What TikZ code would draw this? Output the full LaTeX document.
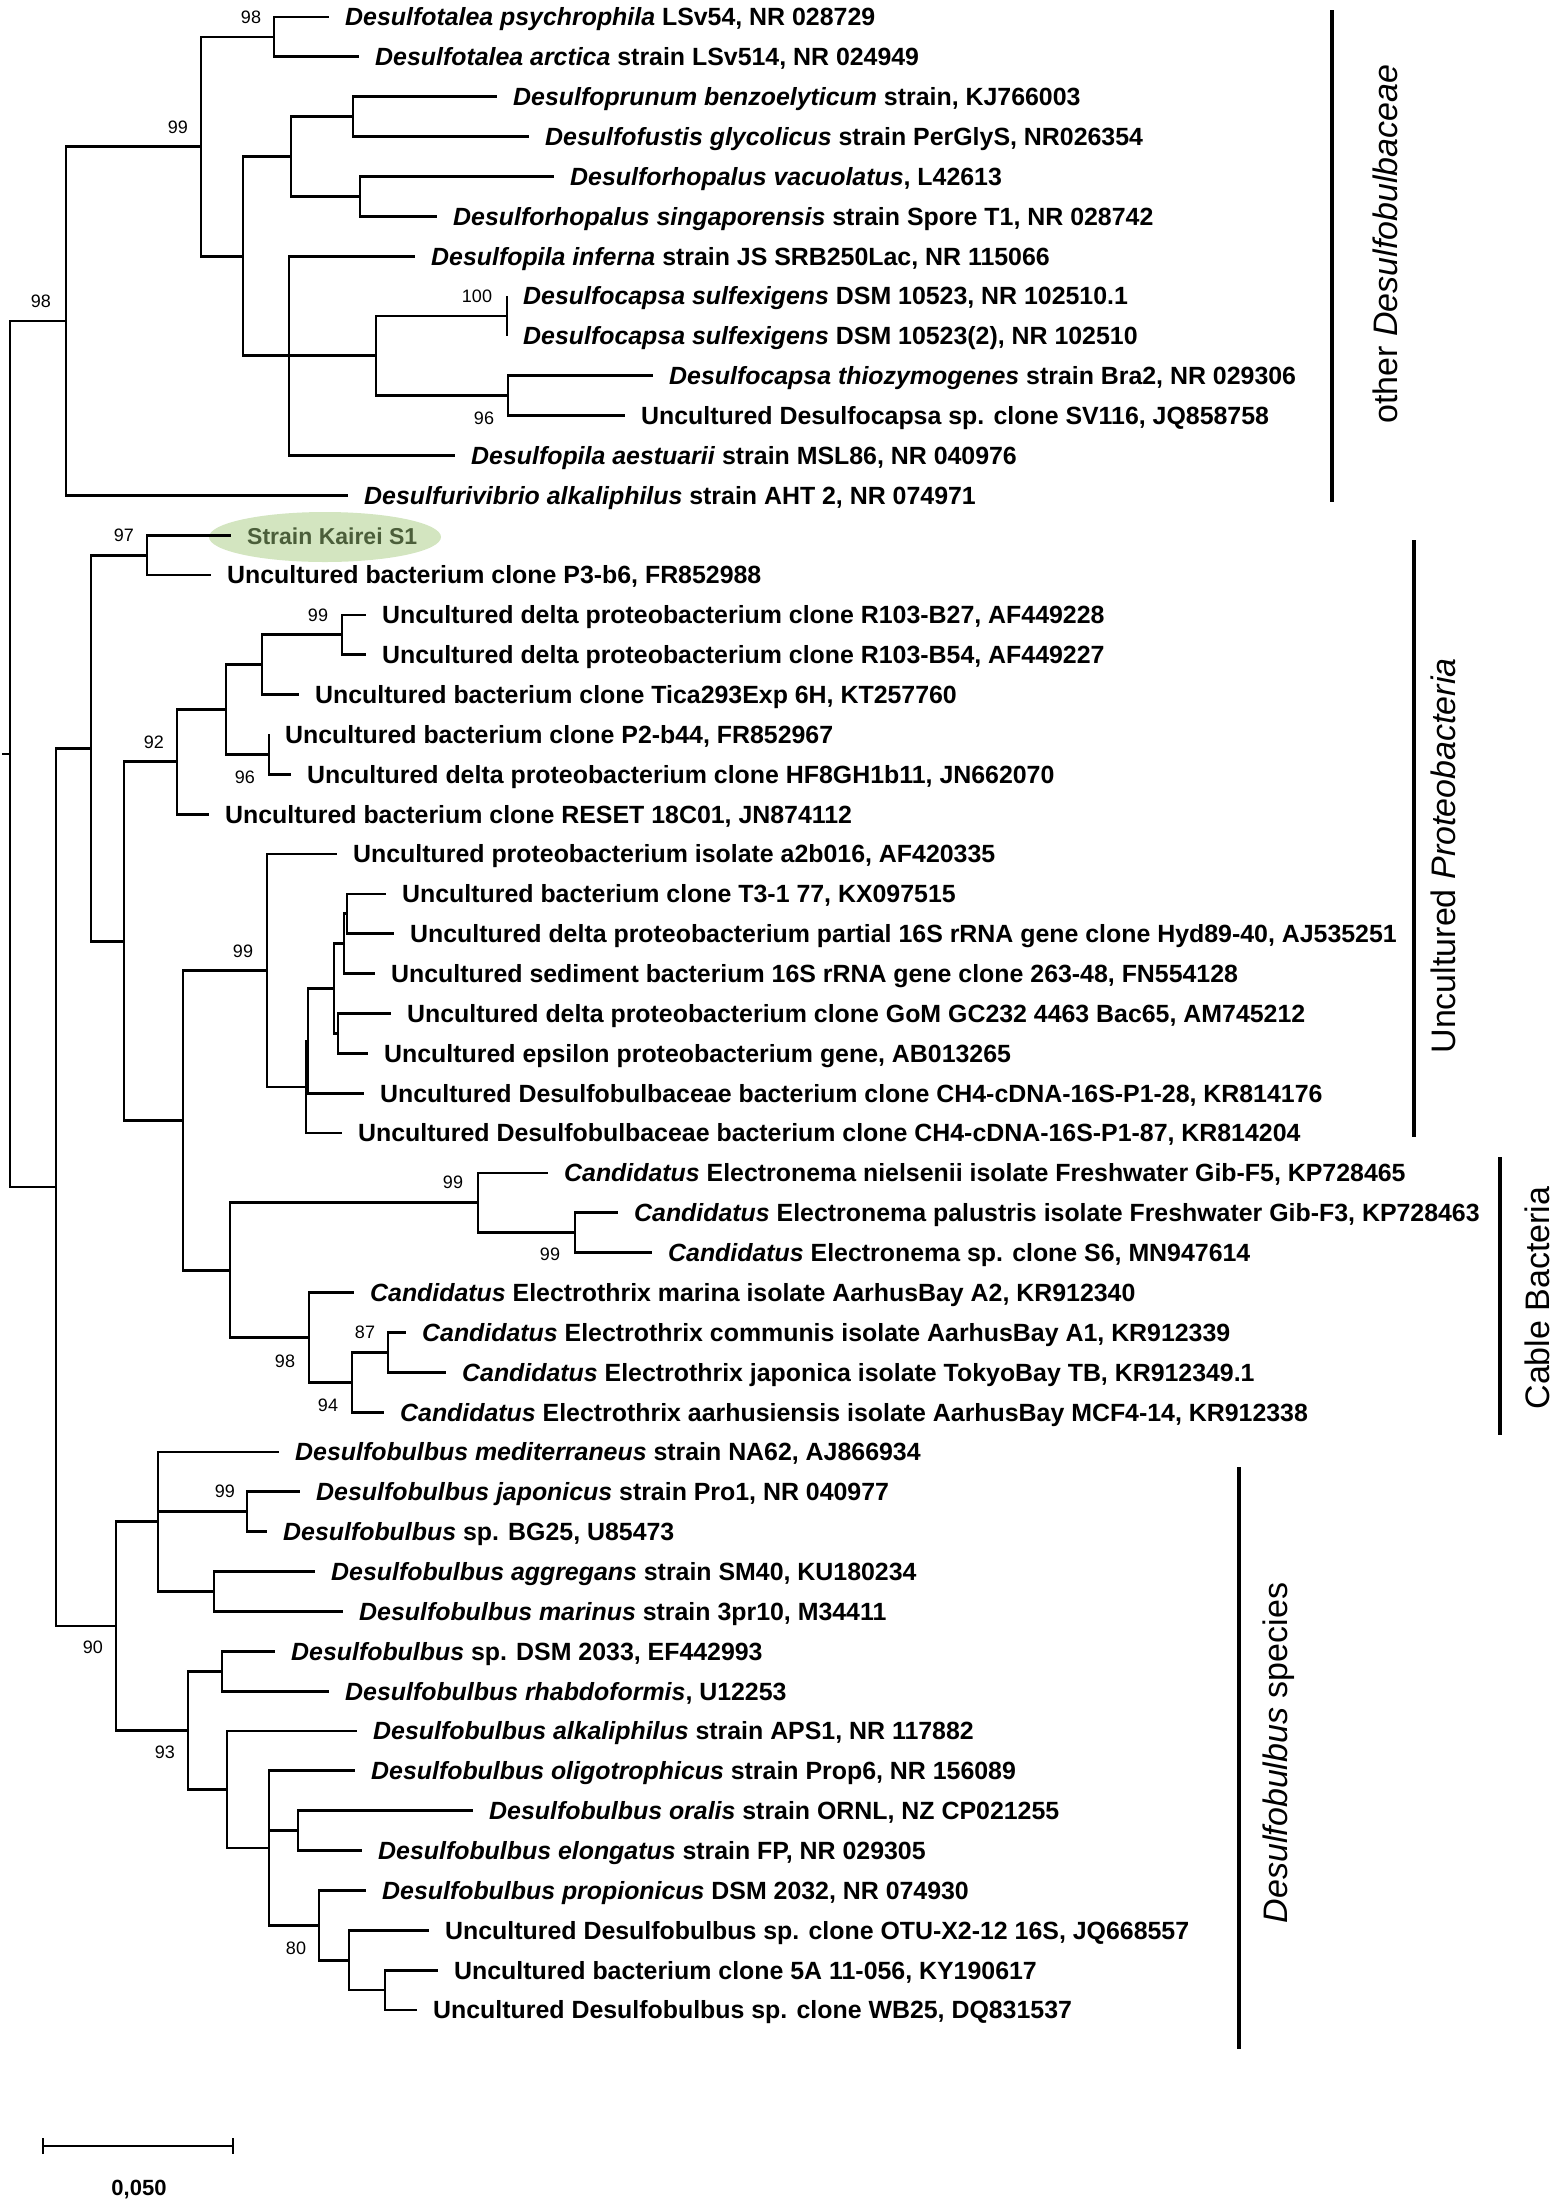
\documentclass[tikz,border=0pt]{standalone}
\usepackage{fontspec}
\setmainfont{Liberation Sans}
\usetikzlibrary{arrows.meta,calc}
\definecolor{kairei-fill}{HTML}{D3E5C0}
\definecolor{kairei-text}{HTML}{4B5E3A}

% a tip: name, row, end of its branch, label
\newcommand{\tip}[4]{%
  \coordinate (#1) at (#3,{17+(#2-1)*39.86});
  \node[tiplabel] (#1-txt) at (#1) {#4};}
% an inner node: name, x, first child, last child
\newcommand{\fork}[4]{%
  \path let \p1=($(#3)!0.5!(#4)$) in coordinate (#1) at (#2pt,\y1);}

\begin{document}
\begin{tikzpicture}[x=1pt,y=-1pt,
    branch/.style={line width=2.8pt},
    tiplabel/.style={anchor=base west,inner sep=0pt,xshift=16pt,yshift=-8.9pt,
      font=\fontsize{24.9}{29}\selectfont\bfseries},
    boot/.style={inner sep=0pt,font=\fontsize{18}{20}\selectfont},
    group/.style={rotate=90,inner sep=0pt,font=\fontsize{34}{40}\selectfont},
    bracket/.style={line width=3.4pt}]
  \useasboundingbox (0,0) rectangle (1559,2209);

  \fill[kairei-fill] (325,537) ellipse [x radius=116,y radius=25];

  % other Desulfobulbaceae
  \tip{psychrophila}{1}{329}{\textit{Desulfotalea psychrophila} LSv54, NR 028729}
  \tip{arctica}{2}{359}{\textit{Desulfotalea arctica} strain LSv514, NR 024949}
  \tip{benzoelyticum}{3}{497}{\textit{Desulfoprunum benzoelyticum} strain, KJ766003}
  \tip{glycolicus}{4}{529}{\textit{Desulfofustis glycolicus} strain PerGlyS, NR026354}
  \tip{vacuolatus}{5}{554}{\textit{Desulforhopalus vacuolatus}, L42613}
  \tip{singaporensis}{6}{437}{\textit{Desulforhopalus singaporensis} strain Spore T1, NR 028742}
  \tip{inferna}{7}{415}{\textit{Desulfopila inferna} strain JS SRB250Lac, NR 115066}
  \tip{sulfex1}{8}{507}{\textit{Desulfocapsa sulfexigens} DSM 10523, NR 102510.1}
  \tip{sulfex2}{9}{507}{\textit{Desulfocapsa sulfexigens} DSM 10523(2), NR 102510}
  \tip{thiozym}{10}{653}{\textit{Desulfocapsa thiozymogenes} strain Bra2, NR 029306}
  \tip{sv116}{11}{625}{Uncultured Desulfocapsa sp. clone SV116, JQ858758}
  \tip{aestuarii}{12}{455}{\textit{Desulfopila aestuarii} strain MSL86, NR 040976}
  \tip{vibrio}{13}{348}{\textit{Desulfurivibrio alkaliphilus} strain AHT 2, NR 074971}

  % uncultured Proteobacteria
  \tip{kairei}{14}{231}{\fontsize{23}{27}\selectfont\textcolor{kairei-text}{Strain Kairei S1}}
  \tip{p3b6}{15}{211}{Uncultured bacterium clone P3-b6, FR852988}
  \tip{r103b27}{16}{366}{Uncultured delta proteobacterium clone R103-B27, AF449228}
  \tip{r103b54}{17}{366}{Uncultured delta proteobacterium clone R103-B54, AF449227}
  \tip{tica}{18}{299}{Uncultured bacterium clone Tica293Exp 6H, KT257760}
  \tip{p2b44}{19}{269}{Uncultured bacterium clone P2-b44, FR852967}
  \tip{hf8}{20}{291}{Uncultured delta proteobacterium clone HF8GH1b11, JN662070}
  \tip{reset}{21}{209}{Uncultured bacterium clone RESET 18C01, JN874112}
  \tip{a2b016}{22}{337}{Uncultured proteobacterium isolate a2b016, AF420335}
  \tip{t3}{23}{386}{Uncultured bacterium clone T3-1 77, KX097515}
  \tip{hyd}{24}{394}{Uncultured delta proteobacterium partial 16S rRNA gene clone Hyd89-40, AJ535251}
  \tip{sediment}{25}{375}{Uncultured sediment bacterium 16S rRNA gene clone 263-48, FN554128}
  \tip{gom}{26}{391}{Uncultured delta proteobacterium clone GoM GC232 4463 Bac65, AM745212}
  \tip{epsilon}{27}{368}{Uncultured epsilon proteobacterium gene, AB013265}
  \tip{ch28}{28}{364}{Uncultured Desulfobulbaceae bacterium clone CH4-cDNA-16S-P1-28, KR814176}
  \tip{ch87}{29}{342}{Uncultured Desulfobulbaceae bacterium clone CH4-cDNA-16S-P1-87, KR814204}

  % cable bacteria
  \tip{nielsenii}{30}{548}{\textit{Candidatus} Electronema nielsenii isolate Freshwater Gib-F5, KP728465}
  \tip{palustris}{31}{618}{\textit{Candidatus} Electronema palustris isolate Freshwater Gib-F3, KP728463}
  \tip{nemaS6}{32}{652}{\textit{Candidatus} Electronema sp. clone S6, MN947614}
  \tip{marina}{33}{354}{\textit{Candidatus} Electrothrix marina isolate AarhusBay A2, KR912340}
  \tip{communis}{34}{406}{\textit{Candidatus} Electrothrix communis isolate AarhusBay A1, KR912339}
  \tip{japonica}{35}{446}{\textit{Candidatus} Electrothrix japonica isolate TokyoBay TB, KR912349.1}
  \tip{aarhus}{36}{384}{\textit{Candidatus} Electrothrix aarhusiensis isolate AarhusBay MCF4-14, KR912338}

  % Desulfobulbus
  \tip{mediterraneus}{37}{279}{\textit{Desulfobulbus mediterraneus} strain NA62, AJ866934}
  \tip{japonicus}{38}{300}{\textit{Desulfobulbus japonicus} strain Pro1, NR 040977}
  \tip{bg25}{39}{267}{\textit{Desulfobulbus} sp. BG25, U85473}
  \tip{aggregans}{40}{315}{\textit{Desulfobulbus aggregans} strain SM40, KU180234}
  \tip{marinus}{41}{343}{\textit{Desulfobulbus marinus} strain 3pr10, M34411}
  \tip{dsm2033}{42}{275}{\textit{Desulfobulbus} sp. DSM 2033, EF442993}
  \tip{rhabdo}{43}{329}{\textit{Desulfobulbus rhabdoformis}, U12253}
  \tip{alkaliphilus}{44}{357}{\textit{Desulfobulbus alkaliphilus} strain APS1, NR 117882}
  \tip{oligo}{45}{355}{\textit{Desulfobulbus oligotrophicus} strain Prop6, NR 156089}
  \tip{oralis}{46}{473}{\textit{Desulfobulbus oralis} strain ORNL, NZ CP021255}
  \tip{elongatus}{47}{362}{\textit{Desulfobulbus elongatus} strain FP, NR 029305}
  \tip{propionicus}{48}{366}{\textit{Desulfobulbus propionicus} DSM 2032, NR 074930}
  \tip{otu}{49}{429}{Uncultured Desulfobulbus sp. clone OTU-X2-12 16S, JQ668557}
  \tip{fiveA}{50}{438}{Uncultured bacterium clone 5A 11-056, KY190617}
  \tip{wb25}{51}{417}{Uncultured Desulfobulbus sp. clone WB25, DQ831537}

  % inner nodes, from the tips down to the root
  \fork{talea}{274}{psychrophila}{arctica}
  \fork{prunum}{353}{benzoelyticum}{glycolicus}
  \fork{rhopalus}{360}{vacuolatus}{singaporensis}
  \fork{prhop}{291}{prunum}{rhopalus}
  \fork{sulfex}{507}{sulfex1}{sulfex2}
  \fork{thio}{508}{thiozym}{sv116}
  \fork{capsa}{376}{sulfex}{thio}
  \fork{pila}{289}{inferna}{aestuarii}
  \fork{core}{243}{prhop}{pila}
  \fork{others}{201}{talea}{core}
  \fork{upper}{66}{others}{vibrio}
  \fork{kaireiclade}{147}{kairei}{p3b6}
  \fork{r103}{342}{r103b27}{r103b54}
  \fork{ticaclade}{262}{r103}{tica}
  \fork{p2}{269}{p2b44}{hf8}
  \fork{clones}{226}{ticaclade}{p2}
  \fork{resetclade}{177}{clones}{reset}
  \fork{t3hyd}{347}{t3}{hyd}
  \fork{sedclade}{344}{t3hyd}{sediment}
  \fork{gomeps}{338}{gom}{epsilon}
  \fork{deltas}{334}{sedclade}{gomeps}
  \fork{ch4a}{308}{deltas}{ch28}
  \fork{ch4b}{306}{ch4a}{ch87}
  \fork{a2b}{267}{a2b016}{ch4b}
  \fork{nema2}{575}{palustris}{nemaS6}
  \fork{nema}{478}{nielsenii}{nema2}
  \fork{thrix3}{388}{communis}{japonica}
  \fork{thrix2}{352}{thrix3}{aarhus}
  \fork{thrix}{309}{marina}{thrix2}
  \fork{cable}{230}{nema}{thrix}
  \fork{lowerclones}{183}{a2b}{cable}
  \fork{proteo}{124}{resetclade}{lowerclones}
  \fork{kaireiup}{91}{kaireiclade}{proteo}
  \fork{japbg}{247}{japonicus}{bg25}
  \fork{aggmar}{214}{aggregans}{marinus}
  \fork{medit}{158}{mediterraneus}{aggmar}
  \fork{dsmrh}{222}{dsm2033}{rhabdo}
  \fork{oralel}{298}{oralis}{elongatus}
  \fork{wb}{385}{fiveA}{wb25}
  \fork{otuwb}{349}{otu}{wb}
  \fork{propi}{319}{propionicus}{otuwb}
  \fork{oligoclade}{269}{oligo}{propi}
  \fork{alkal}{227}{alkaliphilus}{oligoclade}
  \fork{rhabdoclade}{188}{dsmrh}{alkal}
  \fork{bulbus}{116}{medit}{rhabdoclade}
  \fork{lower}{56}{kaireiup}{bulbus}
  \fork{root}{10}{upper}{lower}
  \coordinate (stem) at ([xshift=-8pt]root);

  \draw[branch] (root) -- (stem);
  \foreach \p/\c in {root/upper, root/lower,
      upper/others, upper/vibrio, others/talea, others/core,
      talea/psychrophila, talea/arctica, core/prhop, core/pila,
      prhop/prunum, prhop/rhopalus, prunum/benzoelyticum, prunum/glycolicus,
      rhopalus/vacuolatus, rhopalus/singaporensis,
      pila/inferna, pila/capsa, pila/aestuarii, capsa/sulfex, capsa/thio,
      sulfex/sulfex1, sulfex/sulfex2, thio/thiozym, thio/sv116,
      lower/kaireiup, lower/bulbus, kaireiup/kaireiclade, kaireiup/proteo,
      kaireiclade/kairei, kaireiclade/p3b6,
      proteo/resetclade, proteo/lowerclones, resetclade/clones, resetclade/reset,
      clones/ticaclade, clones/p2, ticaclade/r103, ticaclade/tica,
      r103/r103b27, r103/r103b54, p2/p2b44, p2/hf8,
      lowerclones/a2b, lowerclones/cable, a2b/a2b016, a2b/ch4b,
      ch4b/ch4a, ch4b/ch87, ch4a/deltas, ch4a/ch28,
      deltas/sedclade, deltas/gomeps, sedclade/t3hyd, sedclade/sediment,
      t3hyd/t3, t3hyd/hyd, gomeps/gom, gomeps/epsilon,
      cable/nema, cable/thrix, nema/nielsenii, nema/nema2,
      nema2/palustris, nema2/nemaS6, thrix/marina, thrix/thrix2,
      thrix2/thrix3, thrix2/aarhus, thrix3/communis, thrix3/japonica,
      bulbus/medit, bulbus/rhabdoclade,
      medit/mediterraneus, medit/japbg, medit/aggmar,
      japbg/japonicus, japbg/bg25, aggmar/aggregans, aggmar/marinus,
      rhabdoclade/dsmrh, rhabdoclade/alkal, dsmrh/dsm2033, dsmrh/rhabdo,
      alkal/alkaliphilus, alkal/oligoclade,
      oligoclade/oligo, oligoclade/oralel, oligoclade/propi,
      oralel/oralis, oralel/elongatus, propi/propionicus, propi/otuwb,
      otuwb/otu, otuwb/wb, wb/fiveA, wb/wb25}
    \draw[branch] (\p) |- (\c);

  % bootstrap values
  \node[boot] (bs-upper) at (41,301) {98};
  \node[boot] (bs-others) at (178,127) {99};
  \node[boot] (bs-talea) at (251,17) {98};
  \node[boot] (bs-sulfex) at (477,296) {100};
  \node[boot] (bs-thio) at (484,418) {96};
  \node[boot] (bs-kairei) at (124,535) {97};
  \node[boot] (bs-r103) at (318,615) {99};
  \node[boot] (bs-reset) at (154,742) {92};
  \node[boot] (bs-p2) at (245,777) {96};
  \node[boot] (bs-a2b) at (243,951) {99};
  \node[boot] (bs-nema) at (453,1182) {99};
  \node[boot] (bs-nema2) at (550,1254) {99};
  \node[boot] (bs-thrix3) at (365,1332) {87};
  \node[boot] (bs-thrix) at (285,1361) {98};
  \node[boot] (bs-thrix2) at (328,1405) {94};
  \node[boot] (bs-japbg) at (225,1491) {99};
  \node[boot] (bs-bulbus) at (93,1647) {90};
  \node[boot] (bs-rhabdo) at (165,1752) {93};
  \node[boot] (bs-propi) at (296,1948) {80};

  % groups on the right
  \draw[bracket] (1332,10) -- (1332,502);
  \node[group] (g-other) at (1385,244) {other \textit{Desulfobulbaceae}};
  \draw[bracket] (1414,540) -- (1414,1137);
  \node[group] (g-proteo) at (1443,856) {Uncultured \textit{Proteobacteria}};
  \draw[bracket] (1500,1157) -- (1500,1435);
  \node[group] (g-cable) at (1537,1298) {Cable Bacteria};
  \draw[bracket] (1239,1467) -- (1239,2049);
  \node[group] (g-bulbus) at (1279,1753) {\textit{Desulfobulbus} species};

  % scale bar
  \coordinate (bar-l) at (42,2146);
  \coordinate (bar-r) at (234,2146);
  \draw[line width=1.6pt,{Bar[width=16pt]}-{Bar[width=16pt]}] (bar-l) -- (bar-r);
  \node[font=\fontsize{22}{24}\selectfont\bfseries] (bar-txt) at (139,2189) {0,050};
\end{tikzpicture}
\end{document}
